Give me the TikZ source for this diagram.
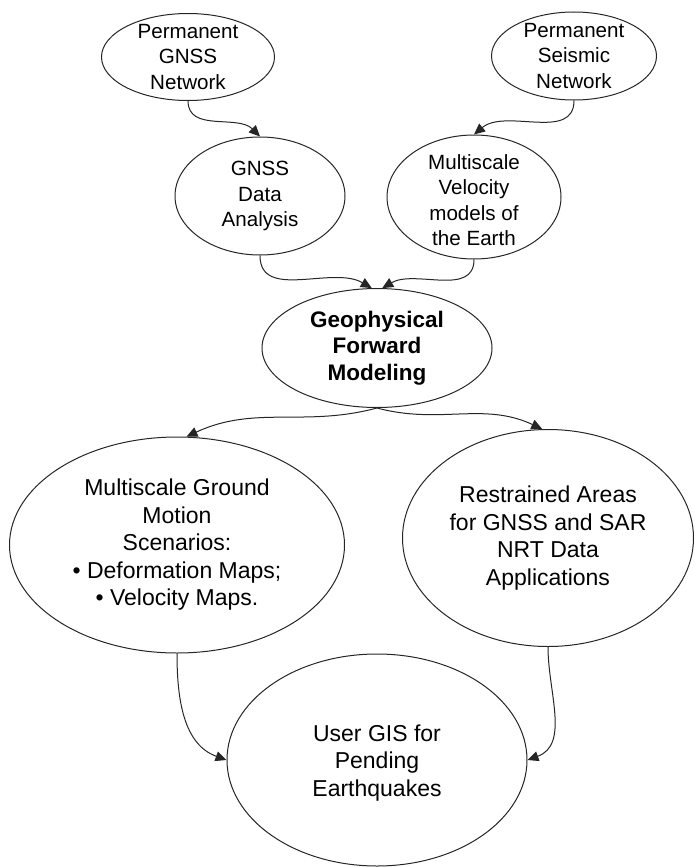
\documentclass[tikz,border=0pt]{standalone}
\usepackage{fontspec}
\setmainfont{Liberation Sans}
\usetikzlibrary{shapes.geometric,arrows.meta}
\begin{document}
\begin{tikzpicture}[x=1pt,y=1pt,
  bub/.style={ellipse,draw=black!85,line width=1pt,inner sep=0pt},
  small/.style={align=center,inner sep=0pt,font=\fontsize{20.6}{25.5}\selectfont},
  big/.style={align=center,inner sep=0pt,font=\fontsize{23}{27.5}\selectfont},
  boldtxt/.style={align=center,inner sep=0pt,font=\fontsize{22.5}{26.5}\selectfont\bfseries},
  conn/.style={draw=black!85,line width=1pt,-{Triangle[length=11pt,width=10pt]}}]
\useasboundingbox (0,0) rectangle (695,-867);
% ellipses
\node[bub,minimum width=173pt,minimum height=87pt] (e1) at (188,-57) {};
\node[bub,minimum width=165pt,minimum height=88pt] (e2) at (574,-56) {};
\node[bub,minimum width=170pt,minimum height=118pt] (e3) at (260,-196) {};
\node[bub,minimum width=174pt,minimum height=124pt] (e4) at (474,-197) {};
\node[bub,minimum width=230pt,minimum height=119pt] (e5) at (377,-348) {};
\node[bub,minimum width=335pt,minimum height=216pt] (e6) at (177,-545) {};
\node[bub,minimum width=291pt,minimum height=217pt] (e7) at (548,-538) {};
\node[bub,minimum width=300pt,minimum height=212pt] (e8) at (377,-760) {};
% texts
\node[small] (t1) at (e1) {Permanent\\GNSS\\Network};
\node[small] (t2) at (e2) {Permanent\\Seismic\\Network};
\node[small] (t3) at (e3) {GNSS\\Data\\Analysis};
\node[small] (t4) at (474,-200) {Multiscale\\Velocity\\models of\\the Earth};
\node[boldtxt] (t5) at (e5) {Geophysical\\Forward\\Modeling};
\node[big] (t6) at (e6) {Multiscale Ground\\Motion\\Scenarios:\\• Deformation Maps;\\• Velocity Maps.};
\node[big] (t7) at (e7) {Restrained Areas\\for GNSS and SAR\\NRT Data\\Applications};
\node[big] (t8) at (377,-763) {User GIS for\\Pending\\Earthquakes};
% connectors
\draw[conn] (e1.south) to[out=-90,in=135] (e3.north);
\draw[conn] (e2.south) to[out=-90,in=40] (e4.north);
\draw[conn] (e3.south) to[out=-90,in=150] (e5.95);
\draw[conn] (e4.south) to[out=-90,in=30] (e5.85);
\draw[conn] (e5.south) to[out=-165,in=25] (e6.85);
\draw[conn] (e5.south) to[out=-15,in=155] (e7.93);
\draw[conn] (e6.south) to[out=-90,in=160] (e8.west);
\draw[conn] (e7.south) to[out=-90,in=20] (e8.east);
\end{tikzpicture}
\end{document}
